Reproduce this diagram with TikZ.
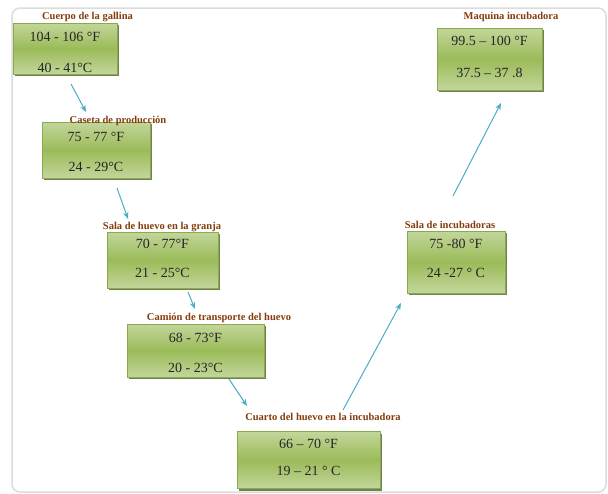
\documentclass[tikz,border=0pt]{standalone}
\usepackage{fontspec}
\setmainfont{Liberation Serif}
\usetikzlibrary{arrows.meta,shadows}
\definecolor{gtop}{HTML}{C3D69B}
\definecolor{gmid}{HTML}{9BBB59}
\definecolor{gedge}{HTML}{8AAA4C}
\definecolor{gshadow}{HTML}{4F6228}
\definecolor{ttl}{HTML}{843C0C}
\definecolor{arr}{HTML}{4BACC6}
\definecolor{frame}{HTML}{DCDCDC}
\begin{document}
\begin{tikzpicture}[x=1pt,y=-1pt,
  tempbox/.style={draw=gedge, line width=0.6pt, top color=gtop, bottom color=gtop, middle color=gmid,
    general shadow={shadow xshift=2pt, shadow yshift=-2pt, fill=gshadow!80}, inner sep=0pt},
  temptext/.style={inner sep=0pt, align=center, font=\fontsize{14}{17}\selectfont, text=black!85},
  ttlnode/.style={font=\bfseries\fontsize{10.5}{12}\selectfont, text=ttl, anchor=base, inner sep=0pt},
  conn/.style={draw=arr, line width=1pt, -{Stealth[length=7pt,width=5.5pt]}}]
\useasboundingbox (0,0) rectangle (608,493);
\draw[frame, line width=1.5pt, rounded corners=8pt] (12,8) rectangle (606,492);

% boxes
\node[tempbox, minimum width=104pt, minimum height=51pt] (b1) at (65,48.5) {};
\node[tempbox, minimum width=108pt, minimum height=56pt] (b2) at (96,150) {};
\node[tempbox, minimum width=111pt, minimum height=56pt] (b3) at (162.5,260) {};
\node[tempbox, minimum width=137pt, minimum height=53pt] (b4) at (195.5,350.5) {};
\node[tempbox, minimum width=143pt, minimum height=57pt] (b5) at (308.5,460) {};
\node[tempbox, minimum width=98pt, minimum height=62pt] (b6) at (456,262) {};
\node[tempbox, minimum width=105pt, minimum height=62pt] (b7) at (489.5,59) {};

% box texts
\node[temptext] (x1) at (65,52.5) {104 - 106 °F\\[14pt]40 - 41°C};
\node[temptext] (x2) at (96,151.5) {75 - 77 °F\\[13pt]24 - 29°C};
\node[temptext] (x3) at (162.5,258) {70 - 77°F\\[12pt]21 - 25°C};
\node[temptext] (x4) at (195.5,353) {68 - 73°F\\[13pt]20 - 23°C};
\node[temptext] (x5) at (308.5,457.5) {66 – 70 °F\\[10pt]19 – 21 ° C};
\node[temptext] (x6) at (456,258.5) {75 -80 °F\\[12pt]24 -27 ° C};
\node[temptext] (x7) at (489.5,56.5) {99.5 – 100 °F\\[15pt]37.5 – 37 .8};

% titles
\node[ttlnode] (t1) at (87.5,19) {Cuerpo de la gallina};
\node[ttlnode] (t2) at (118,123) {Caseta de producción};
\node[ttlnode] (t3) at (162,229) {Sala de huevo en la granja};
\node[ttlnode] (t4) at (219,320) {Camión de transporte del huevo};
\node[ttlnode] (t5) at (323,420) {Cuarto del huevo en la incubadora};
\node[ttlnode] (t6) at (450,228) {Sala de incubadoras};
\node[ttlnode] (t7) at (511,19) {Maquina incubadora};

% connector ends
\coordinate (a1s) at (71,84);  \coordinate (a1e) at (86,112);
\coordinate (a2s) at (117,188); \coordinate (a2e) at (128,219);
\coordinate (a3s) at (188,292); \coordinate (a3e) at (195,309);
\coordinate (a4s) at (229,379); \coordinate (a4e) at (247,406);
\coordinate (a5s) at (343,410); \coordinate (a5e) at (401,303);
\coordinate (a6s) at (453,196); \coordinate (a6e) at (501,103);

\draw[conn] (a1s) -- (a1e);
\draw[conn] (a2s) -- (a2e);
\draw[conn] (a3s) -- (a3e);
\draw[conn] (a4s) -- (a4e);
\draw[conn] (a5s) -- (a5e);
\draw[conn] (a6s) -- (a6e);
\end{tikzpicture}
\end{document}
